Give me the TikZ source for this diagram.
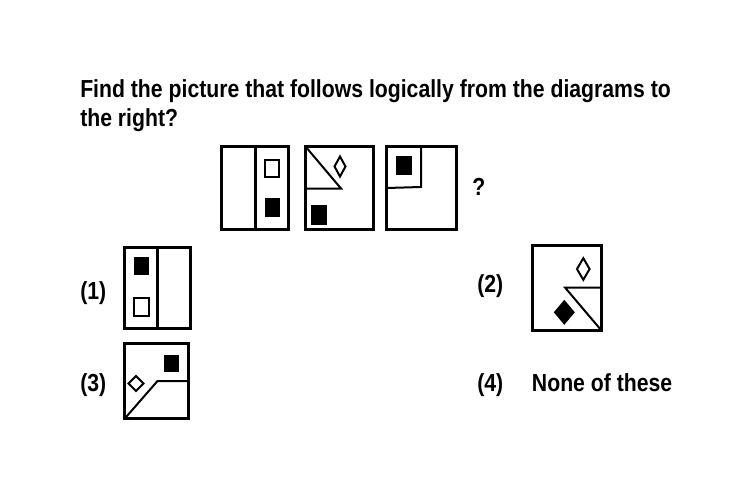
\documentclass[tikz,border=0pt]{standalone}
\usepackage{fontspec}
\setmainfont{Liberation Sans}
\usetikzlibrary{positioning}
\newcommand{\qtxt}[1]{\scalebox{0.86}[1]{#1}}
\begin{document}
\begin{tikzpicture}[x=0.75pt,y=-0.75pt,
        frame/.style={line width=2.25pt},
        inner/.style={line width=1.5pt},
        every node/.style={font=\bfseries\fontsize{18.5}{22}\selectfont, inner sep=0pt, anchor=base west}]
        \useasboundingbox (0,0) rectangle (750,500);

        % question
        \node (Q1) at (80,97.7) {\qtxt{Find the picture that follows logically from the diagrams to}};
        \node (Q2) at (80,126.7) {\qtxt{the right?}};
        \node (Qm) at (472,195) {\qtxt{?}};

        % sequence
        \draw[frame] (221,146.5) rectangle (288,229.5);
        \draw[frame] (255,146.5) -- (255,229.5);
        \draw[inner] (264.5,159.5) rectangle (279,177);
        \fill (264.5,198) rectangle (279.5,216.5);

        \draw[frame] (305.5,146.5) rectangle (373,229.5);
        \draw[inner] (305.5,146.5) -- (341,188.5) -- (305.5,188.5);
        \draw[inner] (340,156.5) -- (345.5,166.5) -- (340,176.5) -- (334.5,166.5) -- cycle;
        \fill (311,205) rectangle (326.5,224.5);

        \draw[frame] (386.5,146.5) rectangle (456,229.5);
        \draw[inner] (386.5,188) -- (421,187) -- (421,146.5);
        \fill (396,156) rectangle (411.5,174.5);

        % answers
        \node (L1) at (80,299.5) {\qtxt{(1)}};
        \draw[frame] (124,247) rectangle (190.3,328.5);
        \draw[frame] (157.7,247) -- (157.7,328.5);
        \fill (133.5,257) rectangle (149,274.5);
        \draw[inner] (133.5,298) rectangle (149,315.5);

        \node (L2) at (477,292) {\qtxt{(2)}};
        \draw[frame] (532.2,245.5) rectangle (601.2,330.2);
        \draw[inner] (601.2,287.5) -- (565,287.5) -- (601.2,330.2);
        \draw[inner] (583.3,258.2) -- (589.6,269) -- (583.3,279.8) -- (577,269) -- cycle;
        \fill (564.3,299.8) -- (574.8,312.3) -- (564.3,324.8) -- (553.8,312.3) -- cycle;

        \node (L3) at (80,391.5) {\qtxt{(3)}};
        \draw[frame] (124.8,343.2) rectangle (188.5,418.5);
        \draw[inner] (124.8,418.5) -- (157.5,381) -- (188.5,381);
        \fill (164,355) rectangle (179,371.5);
        \draw[inner] (136,376) -- (143.5,383.5) -- (136,391) -- (128.5,383.5) -- cycle;

        \node (L4) at (477,391) {\qtxt{(4)}};
        \node (N4) at (531.7,391) {\qtxt{None of these}};

    \end{tikzpicture}
\end{document}
